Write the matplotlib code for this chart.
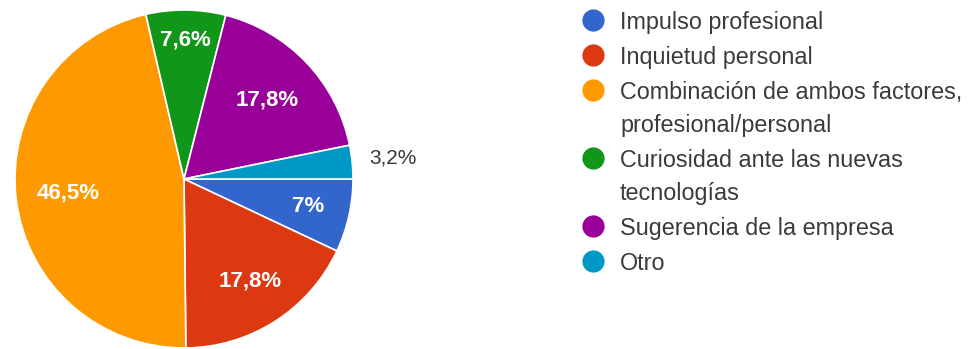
import numpy as np
import matplotlib
matplotlib.use('Agg')
import matplotlib.pyplot as plt

plt.rcParams['font.family'] = ['Liberation Sans', 'DejaVu Sans']

# ------- survey answers -------
categories = ['Impulso profesional',
              'Inquietud personal',
              'Combinación de ambos factores,\nprofesional/personal',
              'Curiosidad ante las nuevas\ntecnologías',
              'Sugerencia de la empresa',
              'Otro']
values     = [7.0, 17.8, 46.5, 7.6, 17.8, 3.2]
pct_labels = ['7%', '17,8%', '46,5%', '7,6%', '17,8%', '3,2%']

colors     = ['#3366cc', '#dc3912', '#ff9900', '#109618', '#990099', '#0099c6']

W, H = 969, 349
fig = plt.figure(figsize=(W / 100, H / 100), dpi=100)

# pie axes: centre (184,179) px, radius 169 px
cx, cy, r = 184, 179, 169
ax = fig.add_axes([(cx - r) / W, (H - cy - r) / H, 2 * r / W, 2 * r / H])
wedges, _ = ax.pie(values, colors=colors, startangle=0, counterclock=False,
                   wedgeprops=dict(edgecolor='white', linewidth=1.2))
ax.set_xlim(-1, 1)
ax.set_ylim(-1, 1)
ax.set_aspect('equal')
ax.axis('off')

# label radius per slice (fraction of pie radius)
lab_r = [0.75, 0.72, 0.69, 0.82, 0.68, 1.24]
for w, txt, lr in zip(wedges, pct_labels, lab_r):
    th = np.deg2rad((w.theta1 + w.theta2) / 2)
    inside = lr < 1
    ax.text(lr * np.cos(th), lr * np.sin(th), txt, ha='center', va='center',
            fontsize=16 if inside else 15, color='white' if inside else '#383838',
            fontweight='bold' if inside else 'normal', clip_on=False)

# ------- legend, drawn in pixel coordinates -------
lg = fig.add_axes([0, 0, 1, 1])
lg.set_xlim(0, W)
lg.set_ylim(H, 0)
lg.axis('off')
y = 20
for lab, col in zip(categories, colors):
    lg.plot(593, y, 'o', ms=16, color=col, mec='none')
    lines = lab.split('\n')
    for k, line in enumerate(lines):
        lg.text(620, y + 33 * k, line, ha='left', va='center_baseline',
                fontsize=16.8, color='#3a3a3a')
    y += 33 * (len(lines) - 1) + 35

fig.savefig('out.png', dpi=100, facecolor='white')
